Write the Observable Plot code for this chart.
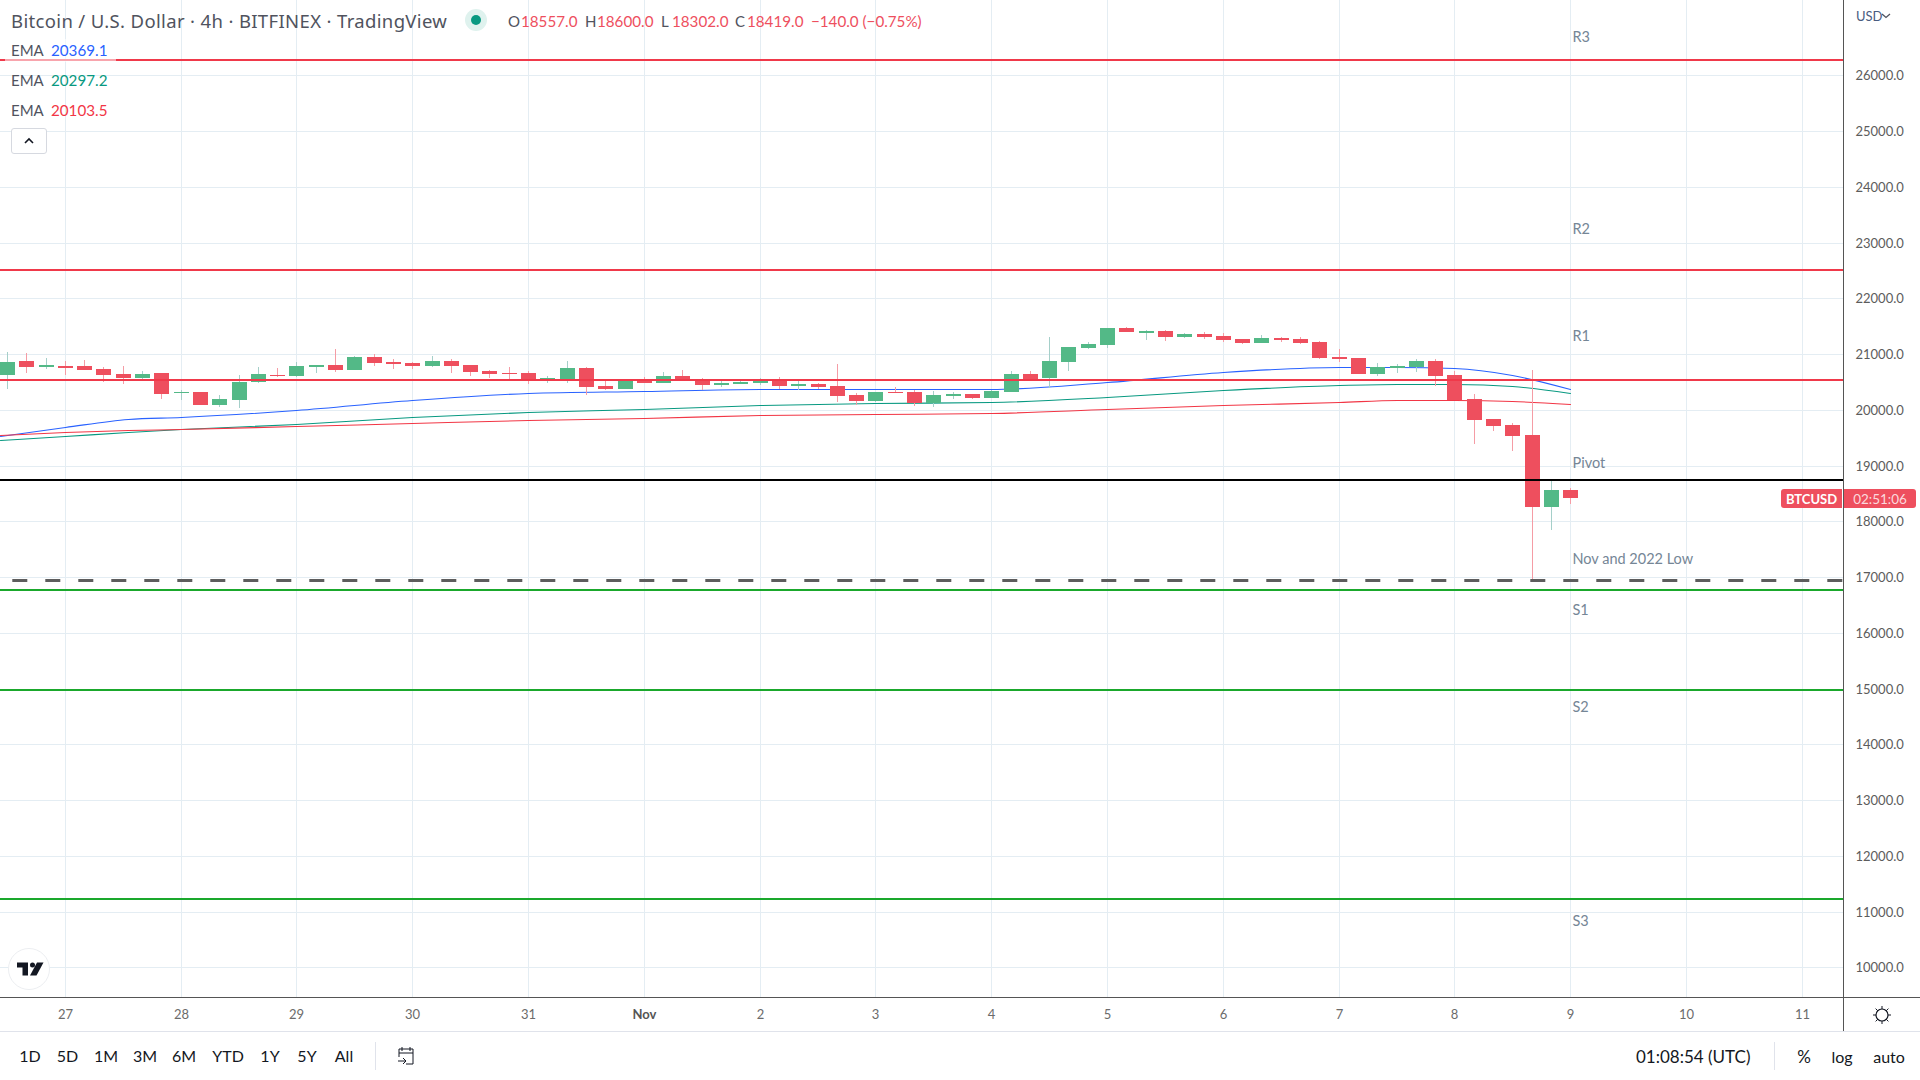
<!DOCTYPE html>
<html>
<head>
<meta charset="utf-8">
<script src="https://cdn.jsdelivr.net/npm/d3@7"></script>
<script src="https://cdn.jsdelivr.net/npm/@observablehq/plot@0.6"></script>
<style>
html,body{margin:0;padding:0;background:#fff;width:1920px;height:1080px;overflow:hidden;font-family:"Lato","Noto Sans",sans-serif}
#chart{position:absolute;left:0;top:0}
.t{position:absolute;white-space:pre;line-height:20px;height:20px}
.hl{position:absolute}
.hl svg{display:block}
</style>
</head>
<body>
<div id="chart"></div>
<script>
const firstBar = "2022-10-26T12:00:00Z";
const opens = [20624,20875,20767,20785,20785,20731,20642,20570,20660,20301,20319,20086,20175,20498,20624,20606,20767,20803,20713,20947,20857,20839,20785,20875,20803,20696,20660,
20660,20534,20534,20750,20427,20373,20534,20481,20606,20552,20445,20463,20481,20534,20427,20463,20427,20265,20158,20319,20319,20122,20248,20283,20212,20319,
20642,20570,20857,21108,21162,21467,21377,21413,21306,21360,21324,21270,21198,21288,21270,21216,20947,20929,20642,20750,
20768,20875,20624,20194,19835,19727,19548,18256,18557];
const highs = [21036,21018,20929,20875,20893,20767,20785,20696,20660,20349,20319,20265,20624,20767,20749,20857,20803,21090,20965,21001,20911,20857,20965,20911,20803,20713,20767,
20696,20606,20875,20768,20517,20534,20588,20678,20714,20570,20517,20517,20570,20588,20517,20481,20822,20301,20319,20409,20355,20337,20319,20283,20355,20696,
20696,21306,21126,21216,21467,21485,21431,21431,21377,21395,21377,21270,21342,21306,21306,21234,21090,20929,20839,20821,
20911,20911,20696,20283,19835,19763,20714,18741,18600];
const lows = [20373,20660,20731,20624,20713,20498,20462,20552,20193,20175,20086,20050,20032,20480,20588,20588,20660,20678,20713,20785,20731,20731,20767,20660,20606,20570,20534,
20463,20481,20481,20265,20355,20373,20481,20481,20517,20355,20409,20463,20445,20373,20355,20373,20140,20086,20140,20301,20068,20050,20194,20194,20212,20319,
20534,20391,20696,21090,21108,21395,21252,21234,21288,21270,21216,21180,21198,21216,21180,20911,20857,20642,20606,20660,
20678,20427,20176,19387,19620,19261,16947,17844,18302];
const closes = [20857,20767,20803,20749,20713,20624,20570,20642,20283,20319,20086,20193,20498,20642,20606,20785,20803,20713,20947,20839,20821,20785,20875,20785,20678,20642,20642,
20534,20570,20750,20409,20373,20534,20481,20606,20517,20445,20481,20499,20517,20427,20463,20409,20248,20158,20319,20301,20122,20265,20283,20212,20337,20642,
20534,20875,21126,21180,21467,21395,21413,21306,21360,21306,21252,21198,21288,21252,21198,20929,20911,20642,20768,20786,
20875,20606,20176,19817,19709,19530,18256,18557,18419];

const emaTimes = ["2022-10-26T10:34Z","2022-10-27T00:00Z","2022-10-27T13:00Z","2022-10-28T00:00Z","2022-10-29T00:00Z","2022-10-30T00:00Z","2022-10-31T00:00Z","2022-11-01T00:00Z","2022-11-02T00:00Z","2022-11-03T00:00Z","2022-11-04T00:00Z","2022-11-05T00:00Z","2022-11-06T00:00Z","2022-11-07T00:00Z","2022-11-07T12:00Z","2022-11-08T00:00Z","2022-11-08T12:00Z","2022-11-09T00:00Z"];
const emaBlue  = [19530,19691,19829,19877,20002,20181,20295,20331,20379,20379,20365,20493,20678,20762,20774,20750,20630,20369.1];
const emaGreen = [19452,19536,19600,19655,19745,19877,19957,20020,20080,20116,20140,20223,20355,20451,20469,20469,20421,20297.2];
const emaRed   = [19554,19602,19632,19655,19703,19769,19826,19859,19901,19925,19949,20008,20086,20146,20170,20182,20158,20103.5];

const priceTicks = [10000,11000,12000,13000,14000,15000,16000,17000,18000,19000,20000,21000,22000,23000,24000,25000,26000];
const dayTicks = ["2022-10-27","2022-10-28","2022-10-29","2022-10-30","2022-10-31","2022-11-02","2022-11-03","2022-11-04","2022-11-05","2022-11-06","2022-11-07","2022-11-08","2022-11-09","2022-11-10","2022-11-11"];
const monthTicks = ["2022-11-01"];
const resistanceLevels = [26274,22508,20534];
const pivotLevel = [18741];
const lowLevel = [16947];
const supportLevels = [16767,14975,11226];
const levelNames = ["R3","R2","R1","Pivot","Nov and 2022 Low","S1","S2","S3"];
const levelNameY = [26705,23261,21333,19071,17333,16434,14678,10856];

const FONT = '"Lato","Noto Sans",sans-serif';
const RED="#ee4f5e", GREEN="#53b987", RED_WICK="#f59ca5", GREEN_WICK="#a5cfc9", GRID="#e4edf3";

const rows = opens.map((o,i)=>({t:new Date(+new Date(firstBar)+i*4*3600e3),o,h:highs[i],l:lows[i],c:closes[i]}));
const up = rows.filter(d=>d.c>=d.o), down = rows.filter(d=>d.c<d.o);
const D = s=>new Date(s);
const ema = (vals)=>vals.map((v,i)=>({t:D(emaTimes[i]),v}));
const dayDates = dayTicks.map(D), monthDates = monthTicks.map(D), allDays=[...dayDates,...monthDates];
const lvl = (data,color,extra={})=>Plot.ruleY(data,{stroke:color,strokeWidth:2,dy:-0.5,...extra});

const plot = Plot.plot({
  width:1920,height:1031,
  marginLeft:0,marginRight:77,marginTop:0,marginBottom:34,
  style:{background:"transparent",fontFamily:FONT,fontSize:"13px",color:"#666"},
  x:{type:"utc",domain:[D("2022-10-26T10:34Z"),D("2022-11-11T08:32Z")],round:true,label:null},
  y:{domain:[9467,27351],round:true,label:null},
  marks:[
    Plot.gridX(allDays,{stroke:GRID,strokeOpacity:1}),
    Plot.gridY(priceTicks,{stroke:GRID,strokeOpacity:1}),
    Plot.line(ema(emaBlue),{x:"t",y:"v",stroke:"#2962ff",strokeWidth:1.1,curve:"monotone-x"}),
    Plot.line(ema(emaGreen),{x:"t",y:"v",stroke:"#089981",strokeWidth:1.1,curve:"monotone-x"}),
    Plot.line(ema(emaRed),{x:"t",y:"v",stroke:"#f23645",strokeWidth:1.1,curve:"monotone-x"}),
    Plot.ruleX(down,{x:"t",y1:"l",y2:"h",stroke:RED_WICK}),
    Plot.ruleX(up,{x:"t",y1:"l",y2:"h",stroke:GREEN_WICK}),
    Plot.ruleX(down,{x:"t",y1:"o",y2:"c",stroke:RED,strokeWidth:15}),
    Plot.ruleX(up,{x:"t",y1:"o",y2:"c",stroke:GREEN,strokeWidth:15}),
    lvl(resistanceLevels,"#f0394a"),
    lvl(pivotLevel,"#000000"),
    lvl(supportLevels,"#1aa82c"),
    Plot.ruleY(lowLevel,{stroke:"#5d5d5d",strokeWidth:3,strokeDasharray:"15,18",strokeDashoffset:20.7}),
    Plot.text(levelNames,{x:()=>D("2022-11-09T00:00Z"),y:(d,i)=>levelNameY[i],text:d=>d,textAnchor:"start",dx:2,dy:0.5,fill:"#758696",fontSize:14.5}),
    Plot.axisY(priceTicks,{anchor:"right",tickSize:0,tickPadding:12,tickFormat:d=>d.toFixed(1),label:null,fill:"#5c5c5c",fontSize:13,textAnchor:"start"}),
    Plot.axisX(dayDates,{anchor:"bottom",tickSize:0,tickPadding:12,tickFormat:d3.utcFormat("%-d"),label:null,fill:"#6b6b6b",fontSize:13}),
    Plot.axisX(monthDates,{anchor:"bottom",tickSize:0,tickPadding:12,tickFormat:d3.utcFormat("%b"),label:null,fill:"#555",fontSize:13,fontWeight:700})
  ]
});
document.getElementById("chart").appendChild(plot);

// chart chrome around the plot
const body=document.body;
function box(x,y,w,h,css){const e=document.createElement("div");e.className="hl";e.style.cssText=`left:${x}px;top:${y}px;width:${w}px;height:${h}px;`+(css||"");body.appendChild(e);return e;}
function txt(s,x,cy,color,size,anchor,css){const e=document.createElement("div");e.className="t";e.textContent=s;
  const tr=anchor==="middle"?"translateX(-50%)":"";
  e.style.cssText=`left:${x}px;top:${cy-10}px;color:${color};font-size:${size}px;transform:${tr};`+(css||"");body.appendChild(e);return e;}

box(0,997,1920,1,"background:#555");
box(1843,0,1,1031,"background:#555");
box(0,1031,1920,1,"background:#e0e3eb");
box(375,1042,1,28,"background:#e0e3eb");
box(1774,1042,1,28,"background:#e0e3eb");

const HEAD="#50535e", PRICE="#ee4f5e";
txt("Bitcoin / U.S. Dollar · 4h · BITFINEX · TradingView",11,21,HEAD,18.5,null,'font-family:"Noto Sans",sans-serif;letter-spacing:0.35px');
box(465,9,22,22,"background:#dff2ee;border-radius:50%");
box(471,15,10,10,"background:#089981;border-radius:50%");
const ohlcLabels=[["O",508],["H",585],["L",661],["C",735]];
const ohlcValues=[["18557.0",521],["18600.0",597],["18302.0",672],["18419.0",747],["−140.0 (−0.75%)",811]];
ohlcLabels.forEach(([s,x])=>txt(s,x,21,HEAD,15));
ohlcValues.forEach(([s,x])=>txt(s,x,21,PRICE,15.2));
box(5,39,111,23,"background:rgba(255,255,255,.55)");
[["20369.1",50,"#2962ff"],["20297.2",80,"#089981"],["20103.5",110,"#f23645"]].forEach(([v,y,c])=>{
  txt("EMA",11,y,HEAD,15); txt(v,51,y,c,15.2);
});
box(11,128,34,24,"border:1px solid #d6d9e0;border-radius:3px;background:#fff").innerHTML=
 '<svg width="34" height="24"><path d="M13 14 L17 10 L21 14" fill="none" stroke="#131722" stroke-width="1.6"/></svg>';
txt("USD",1856,16,"#4a5c80",13);
box(1881,13,10,6,"").innerHTML='<svg width="10" height="6"><path d="M1 1 L5 4.5 L9 1" fill="none" stroke="#50535e" stroke-width="1.3"/></svg>';
// price badge
box(1781,489,61,19,"background:#ee4f5e;border-radius:3px 0 0 3px");
box(1844,489,72,19,"background:#ee4f5e;border-radius:0 3px 3px 0");
txt("BTCUSD",1811.5,498.5,"#ffffff",13,"middle","font-weight:700");
txt("02:51:06",1880,498.5,"#fbd9dd",13.5,"middle");
// logo
box(8,948,42,42,"").innerHTML='<svg width="42" height="42"><circle cx="21" cy="21" r="20.5" fill="#fff" stroke="#eceef1"/><path fill="#131722" d="M9 14.500h11v13h-5.500v-8H9z"/><circle cx="24.500" cy="17" r="2.500" fill="#131722"/><path fill="#131722" d="M29 14.500h6.500l-7 13h-6.500z"/></svg>';
// gear
box(1871,1004,22,22,"").innerHTML='<svg width="22" height="22"><circle cx="11" cy="11" r="6" fill="none" stroke="#131722" stroke-width="1.200"/><path d="M11 2v3M11 17v3M2 11h3M17 11h3M4.600 4.600l2.100 2.100M15.300 15.300l2.100 2.100M4.600 17.400l2.100-2.100M15.300 6.700l2.100-2.100" stroke="#131722" stroke-width="1"/></svg>';
// range bar
const ranges=[["1D",30],["5D",67.500],["1M",106],["3M",145],["6M",184],["YTD",228],["1Y",270],["5Y",307],["All",344]];
ranges.forEach(([s,x])=>txt(s,x,1056,"#131722",16,"middle"));
box(397,1046,20,20,"").innerHTML='<svg width="20" height="20"><path d="M2 7h14M5 1v4M13 1v4M2 3h14v15h-7M2 3v8M1 15h8M6 12l3 3-3 3" fill="none" stroke="#131722" stroke-width="1"/></svg>';
txt("01:08:54 (UTC)",1636,1056.5,"#131722",17);
txt("%",1804,1056.500,"#131722",17,"middle");
txt("log",1842,1056.500,"#131722",16,"middle");
txt("auto",1889,1056.500,"#131722",16,"middle");
</script>
</body>
</html>
